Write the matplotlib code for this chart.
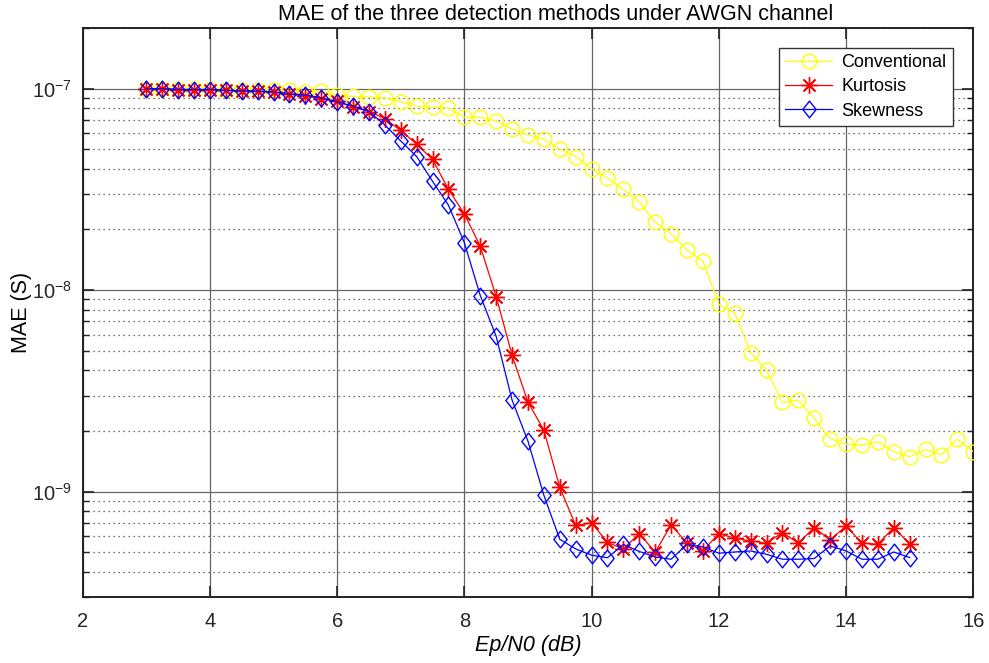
import numpy as np
import matplotlib
matplotlib.use("Agg")
import matplotlib.pyplot as plt
from matplotlib.path import Path
from matplotlib.ticker import LogLocator, NullFormatter, FixedLocator

plt.rcParams['font.family'] = ['Liberation Sans', 'DejaVu Sans']
plt.rcParams['mathtext.fontset'] = 'custom'
plt.rcParams['mathtext.rm'] = 'Liberation Sans'
plt.rcParams['mathtext.it'] = 'Liberation Sans:italic'

# Ep/N0 grid (dB)
snr_conv = np.arange(3.0, 16.0 + 1e-9, 0.25)
snr_hos = np.arange(3.0, 15.0 + 1e-9, 0.25)

# MAE values (seconds)
mae_conventional = [
    1.00e-7, 1.00e-7, 1.00e-7, 1.00e-7, 1.00e-7, 0.99e-7, 0.99e-7, 0.98e-7,
    0.98e-7, 0.98e-7, 0.96e-7, 0.97e-7, 9.3e-8, 9.15e-8, 9.1e-8, 9.0e-8,
    8.6e-8, 8.2e-8, 8.1e-8, 8.0e-8, 7.2e-8, 7.2e-8, 6.9e-8, 6.3e-8,
    5.9e-8, 5.6e-8, 5.0e-8, 4.6e-8, 4.0e-8, 3.6e-8, 3.16e-8, 2.74e-8,
    2.17e-8, 1.91e-8, 1.58e-8, 1.39e-8, 8.5e-9, 7.7e-9, 4.9e-9, 4.0e-9,
    2.77e-9, 2.85e-9, 2.31e-9, 1.83e-9, 1.72e-9, 1.70e-9, 1.77e-9, 1.58e-9,
    1.49e-9, 1.62e-9, 1.52e-9, 1.82e-9, 1.58e-9,
]
mae_kurtosis = [
    1.00e-7, 1.00e-7, 0.99e-7, 0.99e-7, 0.99e-7, 0.98e-7, 0.975e-7, 0.97e-7,
    0.96e-7, 0.94e-7, 9.2e-8, 8.9e-8, 8.65e-8, 8.1e-8, 7.7e-8, 7.1e-8,
    6.2e-8, 5.3e-8, 4.45e-8, 3.16e-8, 2.39e-8, 1.65e-8, 9.3e-9, 4.75e-9,
    2.78e-9, 2.02e-9, 1.05e-9, 6.8e-10, 7.0e-10, 5.6e-10, 5.2e-10, 6.2e-10,
    5.0e-10, 6.84e-10, 5.55e-10, 5.08e-10, 6.2e-10, 5.87e-10, 5.7e-10, 5.55e-10,
    6.27e-10, 5.55e-10, 6.64e-10, 5.76e-10, 6.76e-10, 5.55e-10, 5.49e-10, 6.64e-10,
    5.49e-10,
]
mae_skewness = [
    1.00e-7, 1.00e-7, 0.99e-7, 0.99e-7, 0.99e-7, 0.98e-7, 0.977e-7, 0.97e-7,
    0.963e-7, 0.941e-7, 9.3e-8, 9.0e-8, 8.6e-8, 8.2e-8, 7.7e-8, 6.6e-8,
    5.5e-8, 4.6e-8, 3.47e-8, 2.64e-8, 1.72e-8, 9.4e-9, 5.9e-9, 2.85e-9,
    1.78e-9, 9.6e-10, 5.8e-10, 5.2e-10, 4.84e-10, 4.7e-10, 5.47e-10, 5.05e-10,
    4.74e-10, 4.62e-10, 5.48e-10, 5.32e-10, 4.95e-10, 5.02e-10, 5.08e-10, 4.89e-10,
    4.62e-10, 4.62e-10, 4.66e-10, 5.38e-10, 5.08e-10, 4.62e-10, 4.62e-10, 5.02e-10,
    4.71e-10,
]

labels = ["Conventional", "Kurtosis", "Skewness"]
xticks = [2, 4, 6, 8, 10, 12, 14, 16]

# MATLAB-style diamond (taller than wide)
diamond = Path([(0, -1), (0.8, 0), (0, 1), (-0.8, 0), (0, -1)],
               [Path.MOVETO, Path.LINETO, Path.LINETO, Path.LINETO, Path.CLOSEPOLY])

fig = plt.figure(figsize=(9.89, 6.63), dpi=100)
ax = fig.add_axes([0.0836, 0.0995, 0.9005, 0.8583])

ax.plot(snr_conv, mae_conventional, color=(1, 1, 0), lw=0.9, marker='o',
        ms=10.5, mfc='none', mec=(1, 1, 0), mew=1.0, label=labels[0], zorder=3)
ax.plot(snr_hos, mae_kurtosis, color=(1, 0, 0), lw=0.9, marker=(8, 2, 0),
        ms=12, mec=(1, 0, 0), mew=1.0, label=labels[1], zorder=4)
ax.plot(snr_hos, mae_skewness, color=(0, 0, 1), lw=0.9, marker=diamond,
        ms=12, mfc='none', mec=(0, 0, 1), mew=1.0, label=labels[2], zorder=5)

ax.set_yscale('log')
ax.set_xlim(2, 16)
ax.set_ylim(3e-10, 2e-7)
ax.xaxis.set_major_locator(FixedLocator(xticks))
ax.yaxis.set_major_locator(FixedLocator([1e-9, 1e-8, 1e-7]))
ax.yaxis.set_minor_locator(LogLocator(base=10, subs=np.arange(2, 10), numticks=20))
ax.yaxis.set_minor_formatter(NullFormatter())

ax.set_axisbelow(True)
ax.grid(which='major', axis='both', color='#666666', lw=0.9, ls='-')
ax.grid(which='minor', axis='y', color='#444444', lw=0.9, ls=(0, (1, 3)))

ax.tick_params(which='both', direction='in', top=True, right=True,
               color='#222222', labelsize=14.5, labelcolor='#262626')
ax.tick_params(which='major', length=8, width=1.2)
ax.tick_params(axis='x', which='major', pad=11)
ax.tick_params(axis='y', which='major', pad=8)
ax.tick_params(which='minor', length=4.5, width=1.0)
for s in ax.spines.values():
    s.set_linewidth(1.4)
    s.set_color('#222222')

ax.set_title("MAE of the three detection methods under AWGN channel",
             fontsize=15.5, x=0.531, pad=6)
ax.set_xlabel("Ep/N0 (dB)", fontsize=15.5, fontstyle='italic', labelpad=3)
ax.set_ylabel("MAE (S)", fontsize=15.5, labelpad=0)

leg = ax.legend(loc='upper right', bbox_to_anchor=(0.977, 0.965),
                borderaxespad=0, fontsize=13, fancybox=False, framealpha=1,
                edgecolor='#333333', handlelength=2.6, labelspacing=0.4,
                handletextpad=0.5, borderpad=0.35)
leg.get_frame().set_linewidth(1.0)

fig.savefig("out.png", dpi=100)
